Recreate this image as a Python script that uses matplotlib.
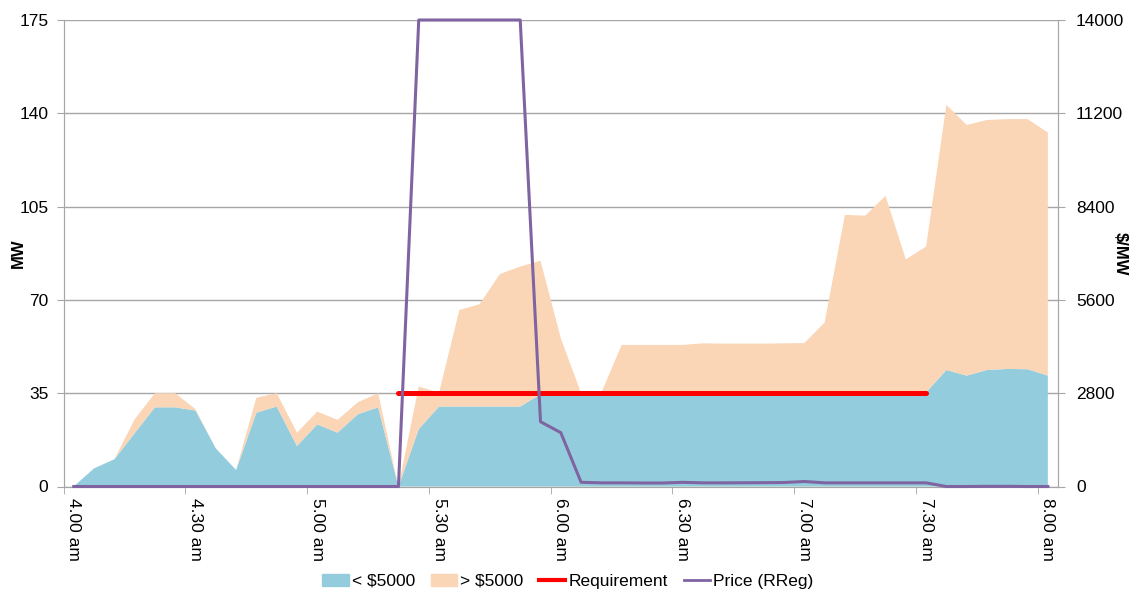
import matplotlib
matplotlib.use("Agg")
import matplotlib.pyplot as plt
from matplotlib.patches import Patch
from matplotlib.lines import Line2D
import numpy as np

plt.rcParams['font.family'] = ['Liberation Sans', 'DejaVu Sans']

# 5-minute intervals from 4.00 am to 8.00 am (49 points)
below_5000 = [0, 6.8, 10.2, 20.0, 29.7, 29.7, 28.5, 14.3, 6.2, 27.7,
              30.0, 15.2, 23.3, 20.2, 27.1, 29.7, 0, 21.5, 30.0, 30.0,
              30.0, 30.0, 30.0, 34.6, 34.6, 34.8, 35.0, 35.0, 35.0, 35.0,
              35.0, 35.0, 35.0, 35.0, 35.0, 35.0, 35.2, 35.2, 35.2, 35.2,
              35.2, 35.5, 35.3, 43.7, 41.6, 43.7, 44.1, 44.0, 41.6]
total_avail = [0, 6.8, 10.2, 25.2, 35.0, 35.0, 29.0, 14.3, 6.2, 33.3,
               35.0, 20.2, 28.1, 25.0, 31.6, 35.0, 0, 37.5, 35.2, 66.2,
               68.4, 79.7, 82.5, 84.7, 55.6, 35.0, 35.2, 53.1, 53.1, 53.1,
               53.1, 53.7, 53.6, 53.6, 53.6, 53.7, 53.8, 61.5, 101.9, 101.6,
               109.0, 85.2, 90.0, 143.2, 135.6, 137.5, 137.8, 137.8, 132.8]
above_5000 = [t - b for t, b in zip(total_avail, below_5000)]
requirement = [np.nan] * 16 + [35.0] * 27 + [np.nan] * 6
price_rreg = [0] * 17 + [14000] * 6 + [1944, 1616, 126, 110, 110, 105, 105,
              125, 110, 110, 112, 115, 120, 150, 110, 110, 110, 110, 110,
              110, 0, 0, 5, 5, 0, 0]
tick_labels = ['4.00 am', '4.30 am', '5.00 am', '5.30 am', '6.00 am',
               '6.30 am', '7.00 am', '7.30 am', '8.00 am']

x = np.arange(len(below_5000))

c_blue = '#93CDDD'
c_peach = '#FAD5B6'
c_red = '#FF0000'
c_purple = '#8064A2'
c_grid = '#A6A6A6'
fs = 12.5

fig = plt.figure(figsize=(11.36, 5.92), dpi=100)
ax = fig.add_axes([63.6 / 1136, 1 - 486.5 / 592, (1058 - 63.6) / 1136, (486.5 - 20) / 592])
ax.stackplot(x, below_5000, above_5000, colors=[c_blue, c_peach], linewidth=0, zorder=2)
ax.plot(x, requirement, color=c_red, lw=3.6, zorder=3, solid_capstyle='round')

ax.set_xlim(-0.5, 48.5)
ax.set_ylim(0, 175)
ax.set_yticks(np.arange(0, 176, 35))
ax.yaxis.grid(True, color=c_grid, lw=1)
ax.set_axisbelow(True)
ax.set_xticks(np.arange(0, 49, 6))
ax.set_xticklabels(tick_labels, rotation=-90, fontsize=fs)
ax.tick_params(axis='x', length=0, pad=8)
ax.set_xticks(np.arange(-0.5, 49, 6), minor=True)
ax.tick_params(axis='x', which='minor', length=5, color=c_grid)
ax.tick_params(axis='y', length=5, color=c_grid, labelsize=fs, pad=6)
ax.set_ylabel('MW', fontsize=fs - 0.5, fontweight='bold')
ax.yaxis.set_label_coords((26 - 63.6) / 994.4, 0.5)
ax.spines['top'].set_visible(False)
for s in ['left', 'right', 'bottom']:
    ax.spines[s].set_color(c_grid)

ax2 = ax.twinx()
ax2.plot(x, price_rreg, color=c_purple, lw=2.2, clip_on=False, zorder=4)
ax2.set_ylim(0, 14000)
ax2.set_yticks(np.arange(0, 14001, 2800))
ax2.tick_params(axis='y', length=5, color=c_grid, labelsize=fs, pad=8)
ax2.set_ylabel('$/MW', fontsize=fs - 0.5, fontweight='bold', rotation=-90, va='center')
ax2.yaxis.set_label_coords((1120 - 63.6) / 994.4, 0.5)
ax2.spines['top'].set_visible(False)
for s in ['left', 'right', 'bottom']:
    ax2.spines[s].set_color(c_grid)

handles = [Patch(color=c_blue), Patch(color=c_peach),
           Line2D([], [], color=c_red, lw=3),
           Line2D([], [], color=c_purple, lw=2)]
labels = ['< $5000', '> $5000', 'Requirement', 'Price (RReg)']
fig.legend(handles, labels, loc='center', bbox_to_anchor=(0.5, 0.018), ncol=4,
           frameon=False, fontsize=fs, handlelength=1.5, handletextpad=0.2,
           columnspacing=0.9)

fig.savefig('out.png', dpi=100)
